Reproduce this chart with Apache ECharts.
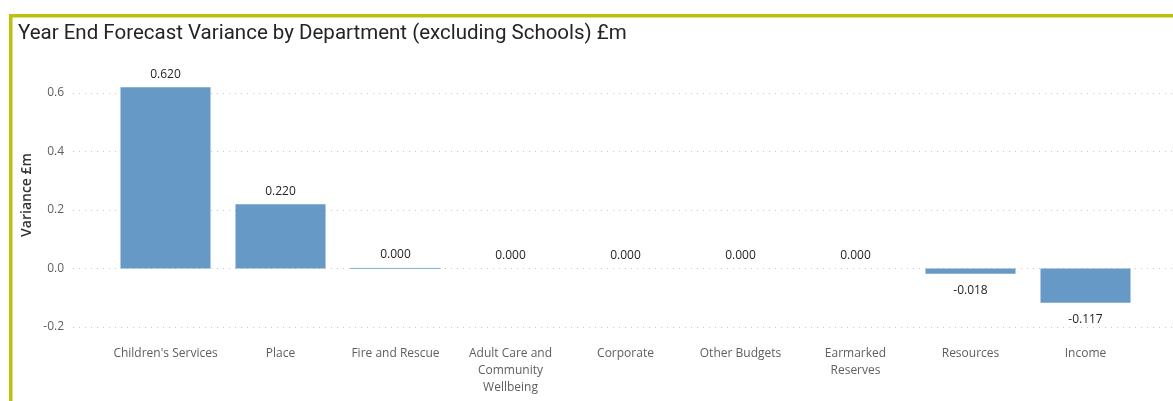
<!DOCTYPE html>
<html><head><meta charset="utf-8">
<script src="https://cdn.jsdelivr.net/npm/echarts@6/dist/echarts.min.js"></script>
<style>html,body{margin:0;padding:0;background:#fff}#c{width:1173px;height:401px}</style>
</head><body><div id="c"></div>
<script>
const categories = ["Children's Services","Place","Fire and Rescue","Adult Care and Community Wellbeing","Corporate","Other Budgets","Earmarked Reserves","Resources","Income"];
const tickLabels = ["Children's Services","Place","Fire and Rescue","Adult Care and\nCommunity\nWellbeing","Corporate","Other Budgets","Earmarked\nReserves","Resources","Income"];
const variance = [0.620, 0.220, 0.0004, 0, 0, 0, 0, -0.018, -0.117];
const yTicks = [-0.2, 0.0, 0.2, 0.4, 0.6];

const chart = echarts.init(document.getElementById('c'));
const F = "'Open Sans','Noto Sans',sans-serif";
const BAR = '#6699c6';
chart.setOption({
  animation:false,
  title:{text:'Year End Forecast Variance by Department (excluding Schools) £m',left:13,top:18,
    textStyle:{fontFamily:"'Roboto','Noto Sans',sans-serif",fontSize:20.5,fontWeight:'normal',color:'#252423'}},
  graphic:[
    {type:'rect',shape:{x:9,y:14,width:1164,height:3.5},style:{fill:'#bcc00f'}},
    {type:'rect',shape:{x:9,y:14,width:3.5,height:387},style:{fill:'#bcc00f'}},
    {type:'text',x:27,y:195,rotation:Math.PI/2,
     style:{text:'Variance £m',fill:'#333',font:"600 14px 'Open Sans','Noto Sans',sans-serif",textAlign:'center',textVerticalAlign:'middle'}}
  ],
  grid:[
    {left:73,right:0,top:93,bottom:74},
    {left:108,width:1035,top:93,bottom:74}
  ],
  xAxis:[
    {gridIndex:0,type:'category',data:categories,show:false},
    {gridIndex:1,type:'category',data:categories,axisLine:{show:false},axisTick:{show:false},
     axisLabel:{interval:0,margin:18,color:'#605e5c',fontFamily:F,fontSize:12,lineHeight:17,
       formatter:(v,i)=>tickLabels[i]}}
  ],
  yAxis:[
    {gridIndex:0,type:'value',min:-0.2,max:0.6,interval:0.2,
     axisLine:{show:false},axisTick:{show:false},
     axisLabel:{margin:9,color:'#605e5c',fontFamily:F,fontSize:12,formatter:v=>v.toFixed(1)},
     splitLine:{lineStyle:{type:[1,5],color:'#c8c8c8',width:1}}},
    {gridIndex:1,type:'value',min:-0.2,max:0.6,interval:0.2,show:false,splitLine:{show:false}}
  ],
  series:[{
    type:'bar',xAxisIndex:1,yAxisIndex:1,clip:false,barCategoryGap:'21.7%',
    itemStyle:{color:BAR},
    label:{show:true,fontFamily:F,fontSize:12,color:'#252423',position:'top',distance:7,
      formatter:p=>p.value.toFixed(3)},
    data:variance.map(v=>({
      value:v,
      itemStyle:(v!==0 && Math.abs(v)<0.001)?{borderColor:'#8fb4d6',borderWidth:1}:{},
      label:v<0?{position:'bottom',distance:11}:{position:'top',distance:7}
    }))
  }]
});
</script></body></html>
